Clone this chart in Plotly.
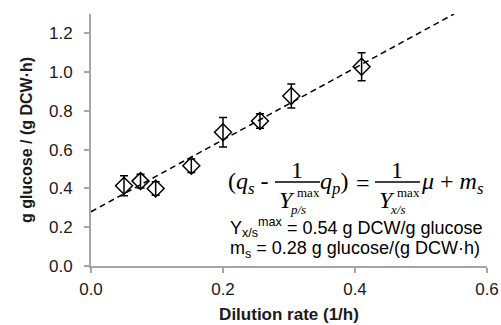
import plotly.graph_objects as go

# ---- data ----
dilution = [0.05, 0.075, 0.098, 0.152, 0.200, 0.256, 0.3035, 0.410]
q_glucose = [0.414, 0.438, 0.400, 0.517, 0.690, 0.748, 0.877, 1.028]
q_err = [0.052, 0.035, 0.035, 0.035, 0.076, 0.038, 0.062, 0.072]

fit_x = [0.0, 0.55]
fit_y = [0.28, 1.30]

x_ticks = [0.0, 0.2, 0.4, 0.6]
y_ticks = [0.0, 0.2, 0.4, 0.6, 0.8, 1.0, 1.2]

Yxs_max = 0.54
m_s = 0.28

# ---- layout geometry (pixels) ----
W, H = 501, 325
L, R, T, B = 91, 14, 14, 59
PW, PH = W - L - R, H - T - B


def px(x):
    return (x - L) / PW


def py(y):
    return (H - B - y) / PH


fig = go.Figure()

fig.add_trace(go.Scatter(
    x=fit_x, y=fit_y, mode="lines",
    line=dict(color="black", width=1.5, dash="6px,4px"),
    showlegend=False, hoverinfo="skip"))

fig.add_trace(go.Scatter(
    x=dilution, y=q_glucose, mode="markers",
    marker=dict(symbol="diamond-open", size=13, color="black",
                line=dict(width=1.5, color="black")),
    error_y=dict(type="data", array=q_err, visible=True,
                 color="black", thickness=1.5, width=4),
    showlegend=False))

axis_col = "#a6a6a6"
font_main = "Liberation Sans, Arial, Helvetica, sans-serif"
serif = "Liberation Serif, Times New Roman, serif"

fig.update_xaxes(
    range=[0, 0.6], tickvals=x_ticks, tickformat=".1f",
    showline=True, linecolor=axis_col, linewidth=2,
    ticks="outside", ticklen=5, tickwidth=1.5, tickcolor=axis_col,
    showgrid=False, zeroline=False, ticklabelstandoff=2,
    tickfont=dict(family=font_main, size=17, color="#1a1a1a"),
    title=dict(text="<b>Dilution rate (1/h)</b>", standoff=10,
               font=dict(family=font_main, size=17, color="#1a1a1a")))

fig.update_yaxes(
    range=[0, 1.3], tickvals=y_ticks, tickformat=".1f",
    showline=True, linecolor=axis_col, linewidth=2,
    ticks="outside", ticklen=5, tickwidth=1.5, tickcolor=axis_col,
    showgrid=False, zeroline=False, ticklabelstandoff=8,
    tickfont=dict(family=font_main, size=17, color="#1a1a1a"),
    title=dict(text="<b>g glucose / (g DCW·h)</b>", standoff=12,
               font=dict(family=font_main, size=16, color="#1a1a1a")))

ann = []


def txt(text, x, y, size=24, family=serif, xanchor="left"):
    ann.append(dict(text=text, x=px(x), y=py(y), xref="paper", yref="paper",
                    xanchor=xanchor, yanchor="middle", showarrow=False,
                    borderpad=0, borderwidth=0,
                    font=dict(family=family, size=size, color="black")))


# equation: (q_s - 1/Y^max_p/s q_p) = 1/Y^max_x/s mu + m_s
main_y = 183
num_y = 170
bar_y = 182
den_y = 200
txt("(<i>q</i><sub><i>s</i></sub> -", 228, main_y)
# fraction 1
txt("1", 297, num_y, xanchor="center")
txt("<i>Y</i>", 279, den_y)
txt("max", 297, 193, size=13)
txt("<i>p/s</i>", 290, 209, size=13)
txt("<i>q</i><sub><i>p</i></sub>)", 320, main_y)
txt("=", 363, main_y, xanchor="center")
# fraction 2
txt("1", 397, num_y, xanchor="center")
txt("<i>Y</i>", 379, den_y)
txt("max", 397, 193, size=13)
txt("<i>x/s</i>", 390, 209, size=13)
txt("<i>μ</i> + <i>m</i><sub><i>s</i></sub>", 421, main_y)

shapes = []
for x0, x1 in [(275, 320), (375, 420)]:
    shapes.append(dict(type="line", xref="paper", yref="paper",
                       x0=px(x0), x1=px(x1), y0=py(bar_y), y1=py(bar_y),
                       line=dict(color="black", width=1.5)))

txt(f"Y<sub>x/s</sub><sup>max</sup> = {Yxs_max:.2f} g DCW/g glucose",
    230, 227, size=18, family=font_main)
txt(f"m<sub>s</sub> = {m_s:.2f} g glucose/(g DCW·h)",
    230, 249, size=18, family=font_main)

fig.update_layout(
    width=W, height=H,
    margin=dict(l=L, r=R, t=T, b=B, autoexpand=False),
    paper_bgcolor="white", plot_bgcolor="white",
    annotations=ann, shapes=shapes)

fig.write_html("out.html")
